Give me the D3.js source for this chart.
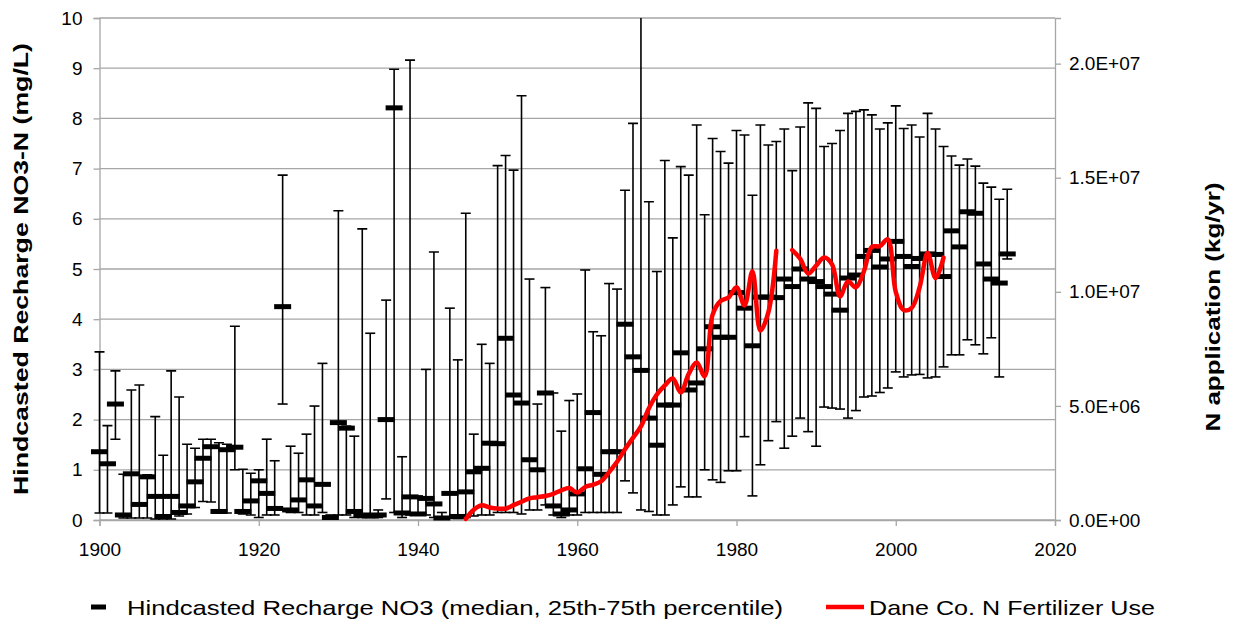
<!DOCTYPE html>
<html lang="en">
<head>
<meta charset="UTF-8">
<title>Hindcasted recharge NO3 and Dane Co. N fertilizer use</title>
<script src="https://cdn.jsdelivr.net/npm/d3@7/dist/d3.min.js"></script>
<style>
  body { margin: 0; background: #fff; }
  svg { display: block; font-family: "Liberation Sans", Arial, sans-serif; }
</style>
</head>
<body>
<svg width="1236" height="627"></svg>
<script>
// ---- data ----
var years = [
  1900,1901,1902,1903,1904,1905,1906,1907,1908,1909,
  1910,1911,1912,1913,1914,1915,1916,1917,1918,1919,
  1920,1921,1922,1923,1924,1925,1926,1927,1928,1929,
  1930,1931,1932,1933,1934,1935,1936,1937,1938,1939,
  1940,1941,1942,1943,1944,1945,1946,1947,1948,1949,
  1950,1951,1952,1953,1954,1955,1956,1957,1958,1959,
  1960,1961,1962,1963,1964,1965,1966,1967,1968,1969,
  1970,1971,1972,1973,1974,1975,1976,1977,1978,1979,
  1980,1981,1982,1983,1984,1985,1986,1987,1988,1989,
  1990,1991,1992,1993,1994,1995,1996,1997,1998,1999,
  2000,2001,2002,2003,2004,2005,2006,2007,2008,2009,
  2010,2011,2012,2013,2014
];
// median NO3-N (mg/L)
var median = [
  1.36,1.12,2.31,0.10,0.92,0.31,0.86,0.47,0.07,0.47,
  0.15,0.28,0.76,1.23,1.46,0.17,1.40,1.45,0.17,0.38,
  0.78,0.53,0.23,4.25,0.20,0.40,0.80,0.28,0.71,0.05,
  1.94,1.83,0.17,0.10,0.08,0.10,2.00,8.21,0.14,0.46,
  0.12,0.43,0.32,0.04,0.53,0.07,0.56,0.96,1.03,1.53,
  1.52,3.62,2.49,2.33,1.20,1.00,2.53,0.28,0.12,0.20,
  0.52,1.02,2.14,0.91,1.36,1.36,3.90,3.25,2.98,2.03,
  1.49,2.29,2.29,3.33,2.59,2.73,3.41,3.85,3.64,3.64,
  4.53,4.22,3.47,4.44,4.44,4.43,4.80,4.65,5.00,4.80,
  4.75,4.65,4.50,4.18,4.82,4.88,5.25,5.37,5.04,5.20,
  5.55,5.25,5.05,5.21,5.30,5.29,4.85,5.76,5.44,6.14,
  6.11,5.10,4.80,4.72,5.30
];
// 25th percentile
var p25 = [
  0.14,0.14,1.61,0.04,0.04,0.04,0.04,0.02,0.02,0.02,
  0.08,0.12,0.25,0.37,0.36,0.14,0.14,1.00,0.12,0.10,
  0.05,0.10,0.10,2.31,0.15,0.15,0.10,0.10,0.15,0.02,
  0.10,0.10,0.05,0.05,0.05,0.05,0.42,0.15,0.05,0.10,
  0.10,0.10,0.05,0.02,0.05,0.03,0.05,0.08,0.10,0.10,
  0.15,0.15,0.15,0.12,0.20,0.20,0.30,0.10,0.05,0.10,
  0.10,0.15,0.15,0.15,0.15,0.15,0.78,0.54,0.20,0.17,
  0.10,0.10,0.30,0.66,0.46,0.46,1.00,0.80,0.75,0.98,
  0.98,1.66,0.48,1.10,1.58,1.96,1.43,1.67,2.03,1.76,
  1.47,2.25,2.23,2.21,2.03,2.18,2.45,2.47,2.54,2.63,
  2.95,2.85,2.89,2.90,2.83,2.85,3.05,3.29,3.29,3.59,
  3.49,3.31,3.63,2.85,5.20
];
// 75th percentile
var p75 = [
  3.35,1.88,2.97,0.91,2.59,2.69,0.90,2.06,1.29,2.97,
  2.45,1.51,1.43,1.61,1.61,1.54,1.51,3.86,1.01,0.93,
  1.00,1.61,1.18,6.87,1.47,1.33,1.71,2.27,3.12,0.10,
  6.16,1.87,1.67,5.80,3.72,0.20,4.38,8.98,1.26,9.16,
  0.48,3.00,5.34,0.15,4.22,3.19,6.11,1.71,3.50,3.12,
  7.06,7.26,6.97,8.45,4.80,2.31,4.63,2.53,1.77,2.38,
  2.51,4.98,3.75,3.67,4.71,4.60,6.57,7.90,10.6,6.34,
  4.95,7.16,5.62,7.04,6.87,7.87,6.08,7.60,7.34,7.11,
  7.76,7.67,6.47,7.87,7.47,7.54,7.79,6.96,7.83,8.31,
  8.20,7.44,7.50,7.76,8.10,8.14,8.17,8.07,7.79,7.91,
  8.25,7.80,7.87,7.63,8.10,7.79,7.44,7.25,7.07,7.19,
  7.05,6.71,6.63,6.39,6.59
];

// Dane Co. N fertilizer use (kg/yr), no value for 1986
var fertYears = [
  1946,1947,1948,1949,1950,1951,1952,1953,1954,1955,
  1956,1957,1958,1959,1960,1961,1962,1963,1964,1965,
  1966,1967,1968,1969,1970,1971,1972,1973,1974,1975,
  1976,1977,1978,1979,1980,1981,1982,1983,1984,1985,
  1986,1987,1988,1989,1990,1991,1992,1993,1994,1995,
  1996,1997,1998,1999,2000,2001,2002,2003,2004,2005,2006
];
var fertUse = [
  0.05e6,0.45e6,0.65e6,0.55e6,0.50e6,0.50e6,0.65e6,0.80e6,0.95e6,1.00e6,
  1.05e6,1.15e6,1.30e6,1.40e6,1.20e6,1.45e6,1.55e6,1.70e6,2.10e6,2.55e6,
  3.10e6,3.60e6,4.10e6,4.90e6,5.50e6,5.90e6,6.20e6,5.60e6,6.40e6,6.90e6,
  6.30e6,9.00e6,9.60e6,9.75e6,10.2e6,9.40e6,10.9e6,8.30e6,9.10e6,11.8e6,
  null,11.83e6,11.45e6,10.8e6,11.15e6,11.5e6,11.2e6,9.80e6,10.45e6,10.2e6,
  10.9e6,11.97e6,12.0e6,12.3e6,10.0e6,9.20e6,9.30e6,10.2e6,11.7e6,10.6e6,11.5e6
];

var xTicks = [1900,1920,1940,1960,1980,2000,2020];
var leftTicks = [0,1,2,3,4,5,6,7,8,9,10];
var rightTicks = [0,5e6,1e7,1.5e7,2e7];

var leftTitle = "Hindcasted Recharge NO3-N (mg/L)";
var rightTitle = "N application (kg/yr)";
var legendNO3 = "Hindcasted Recharge NO3 (median, 25th-75th percentile)";
var legendFert = "Dane Co. N Fertilizer Use";

// ---- layout ----
var svg = d3.select("svg");
var pLeft = 99.5, pRight = 1055, pTop = 18, pBottom = 520;

var x = d3.scaleLinear().domain([1900, 2020]).range([pLeft, pRight]);
var yL = d3.scaleLinear().domain([0, 10]).range([pBottom, pTop]);
var yR = d3.scaleLinear().domain([0, 2.2e7]).range([pBottom, pTop]);

function sci(v) {
  if (v === 0) return "0.0E+00";
  var e = Math.floor(Math.log10(v) + 1e-9);
  var m = v / Math.pow(10, e);
  return m.toFixed(1) + "E+" + (e < 10 ? "0" + e : e);
}

var gridColor = "#a6a6a6";
var fontSize = 19;

// gridlines
svg.append("g")
  .selectAll("line")
  .data(leftTicks)
  .join("line")
  .attr("x1", pLeft).attr("x2", pRight)
  .attr("y1", function(d) { return yL(d); })
  .attr("y2", function(d) { return yL(d); })
  .attr("stroke", gridColor)
  .attr("stroke-width", 1.3);

// left axis
var gL = svg.append("g")
  .attr("transform", "translate(" + pLeft + ",0)")
  .call(d3.axisLeft(yL).tickValues(leftTicks).tickSize(6).tickPadding(11));
// right axis
var gR = svg.append("g")
  .attr("transform", "translate(" + pRight + ",0)")
  .call(d3.axisRight(yR).tickValues(rightTicks).tickSize(6).tickPadding(8).tickFormat(sci));
// bottom axis
var gB = svg.append("g")
  .attr("transform", "translate(0," + pBottom + ")")
  .call(d3.axisBottom(x).tickValues(xTicks).tickSize(6).tickPadding(17).tickFormat(d3.format("d")));

[gL, gR, gB].forEach(function(g) {
  g.select(".domain").attr("stroke", gridColor).attr("stroke-width", 1.3);
  g.selectAll(".tick line").attr("stroke", gridColor).attr("stroke-width", 1.3);
  g.selectAll(".tick text")
    .attr("fill", "#000")
    .style("font-size", fontSize + "px")
    .style("font-family", "Liberation Sans, Arial, sans-serif");
});

// error bars with medians
var rows = years.map(function(y, i) {
  return { year: y, med: median[i], lo: p25[i], hi: p75[i] };
});

svg.append("clipPath").attr("id", "plot")
  .append("rect")
  .attr("x", pLeft - 20).attr("y", pTop)
  .attr("width", pRight - pLeft + 40).attr("height", pBottom - pTop + 10);

var bars = svg.append("g").attr("clip-path", "url(#plot)");

bars.selectAll("line.whisker")
  .data(rows)
  .join("line")
  .attr("class", "whisker")
  .attr("x1", function(d) { return x(d.year); })
  .attr("x2", function(d) { return x(d.year); })
  .attr("y1", function(d) { return yL(d.lo); })
  .attr("y2", function(d) { return yL(d.hi); })
  .attr("stroke", "#000")
  .attr("stroke-width", 1.6);

var capW = 10;
["lo", "hi"].forEach(function(k) {
  bars.selectAll("line.cap-" + k)
    .data(rows)
    .join("line")
    .attr("class", "cap-" + k)
    .attr("x1", function(d) { return x(d.year) - capW / 2; })
    .attr("x2", function(d) { return x(d.year) + capW / 2; })
    .attr("y1", function(d) { return yL(d[k]); })
    .attr("y2", function(d) { return yL(d[k]); })
    .attr("stroke", "#000")
    .attr("stroke-width", 1.6);
});

var medW = 17, medH = 5;
bars.selectAll("rect.med")
  .data(rows)
  .join("rect")
  .attr("class", "med")
  .attr("x", function(d) { return x(d.year) - medW / 2; })
  .attr("y", function(d) { return yL(d.med) - medH / 2; })
  .attr("width", medW)
  .attr("height", medH)
  .attr("fill", "#000");

// fertilizer line
var fert = fertYears.map(function(y, i) { return { year: y, v: fertUse[i] }; });
var line = d3.line()
  .defined(function(d) { return d.v !== null; })
  .x(function(d) { return x(d.year); })
  .y(function(d) { return yR(d.v); })
  .curve(d3.curveCatmullRom.alpha(0.5));

svg.append("path")
  .datum(fert)
  .attr("d", line)
  .attr("fill", "none")
  .attr("stroke", "#ff0000")
  .attr("stroke-width", 4.5)
  .attr("stroke-linejoin", "round")
  .attr("stroke-linecap", "round");

// axis titles
svg.append("text")
  .attr("transform", "translate(28,269) rotate(-90)")
  .attr("text-anchor", "middle")
  .attr("textLength", 452)
  .attr("lengthAdjust", "spacingAndGlyphs")
  .style("font-size", "21px")
  .style("font-weight", "bold")
  .text(leftTitle);

svg.append("text")
  .attr("transform", "translate(1220,307) rotate(-90)")
  .attr("text-anchor", "middle")
  .attr("textLength", 249)
  .attr("lengthAdjust", "spacingAndGlyphs")
  .style("font-size", "21px")
  .style("font-weight", "bold")
  .text(rightTitle);

// legend
var legY = 607;
svg.append("rect")
  .attr("x", 91).attr("y", legY - 2.5)
  .attr("width", 15).attr("height", 5)
  .attr("fill", "#000");
svg.append("text")
  .attr("x", 127).attr("y", legY + 8)
  .attr("textLength", 656)
  .attr("lengthAdjust", "spacingAndGlyphs")
  .style("font-size", "21px")
  .text(legendNO3);

svg.append("line")
  .attr("x1", 826).attr("x2", 864)
  .attr("y1", legY).attr("y2", legY)
  .attr("stroke", "#ff0000")
  .attr("stroke-width", 4.5);
svg.append("text")
  .attr("x", 869).attr("y", legY + 8)
  .attr("textLength", 286)
  .attr("lengthAdjust", "spacingAndGlyphs")
  .style("font-size", "21px")
  .text(legendFert);
</script>
</body>
</html>
